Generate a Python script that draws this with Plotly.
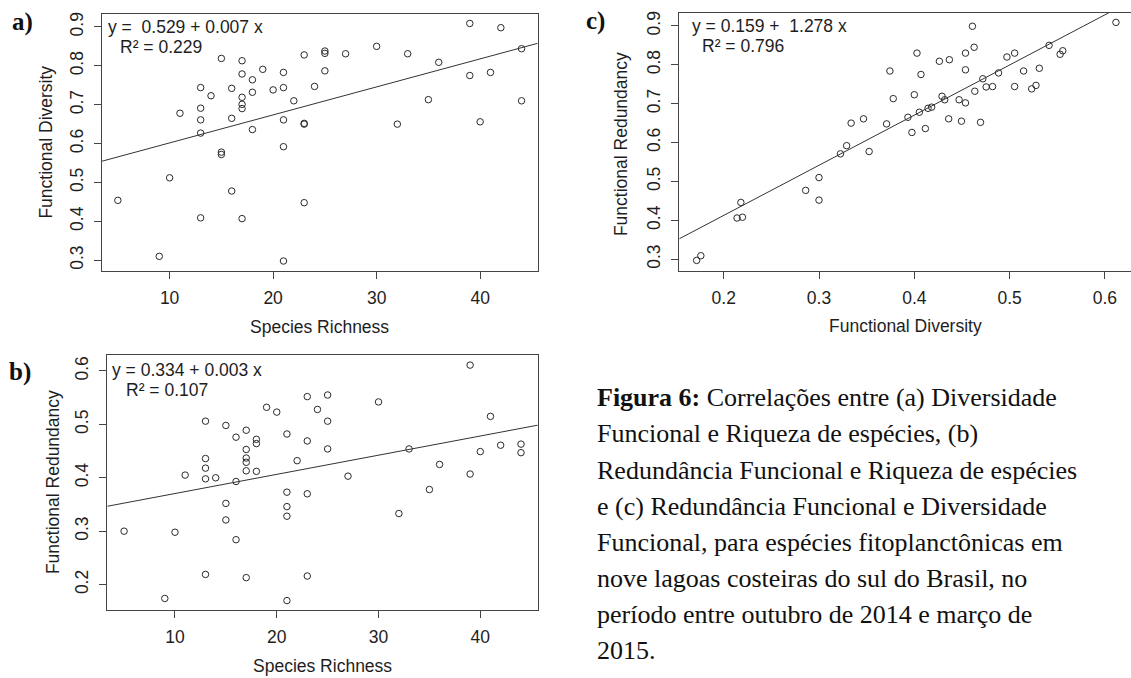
import numpy as np
import plotly.graph_objects as go

W, H = 1131, 678

# ---------------- data ----------------
species_richness = [5, 9, 10, 11, 13, 13, 13, 13, 13, 14, 15, 15, 15, 16, 16, 16,
                    17, 17, 17, 17, 17, 17, 18, 18, 18, 19, 20, 21, 21, 21, 21, 21,
                    22, 23, 23, 23, 23, 24, 25, 25, 25, 27, 30, 32, 33, 35, 36,
                    39, 39, 40, 41, 42, 44, 44]

functional_diversity = [0.454, 0.310, 0.512, 0.678,
                        0.744, 0.691, 0.661, 0.627, 0.409,
                        0.723,
                        0.819, 0.578, 0.572,
                        0.742, 0.665, 0.478,
                        0.813, 0.779, 0.719, 0.701, 0.690, 0.407,
                        0.764, 0.732, 0.636,
                        0.791, 0.738,
                        0.783, 0.744, 0.661, 0.592, 0.298,
                        0.710,
                        0.828, 0.652, 0.650, 0.448,
                        0.747,
                        0.838, 0.832, 0.787,
                        0.831, 0.850, 0.650, 0.831, 0.713, 0.809,
                        0.909, 0.775, 0.656, 0.783, 0.898, 0.844, 0.710]

functional_redundancy = [0.300, 0.174, 0.298, 0.405,
                         0.506, 0.436, 0.418, 0.398, 0.219,
                         0.400,
                         0.498, 0.352, 0.321,
                         0.476, 0.393, 0.284,
                         0.489, 0.453, 0.437, 0.429, 0.413, 0.213,
                         0.472, 0.464, 0.412,
                         0.532, 0.523,
                         0.482, 0.373, 0.346, 0.328, 0.170,
                         0.432,
                         0.552, 0.469, 0.370, 0.216,
                         0.528,
                         0.555, 0.506, 0.454,
                         0.403, 0.542, 0.333, 0.454, 0.378, 0.425,
                         0.611, 0.407, 0.449, 0.515, 0.461, 0.463, 0.447]

# panel c as drawn (x labelled Functional Diversity, y labelled Functional Redundancy)
c_x = [0.1716, 0.176, 0.214, 0.2197, 0.218, 0.286, 0.300, 0.300, 0.3225, 0.329,
       0.3337, 0.3467, 0.3526, 0.3709, 0.3744, 0.3779, 0.3933, 0.3975, 0.400, 0.4028,
       0.4053, 0.407, 0.4116, 0.4144, 0.4182, 0.4263, 0.4291, 0.4319, 0.4361, 0.4368,
       0.447, 0.4495, 0.4537, 0.4537, 0.4537, 0.461, 0.4628, 0.4635, 0.4695, 0.4719,
       0.4754, 0.4821, 0.4884, 0.4972, 0.5053, 0.5053, 0.5147, 0.5232, 0.5277, 0.5312,
       0.5414, 0.553, 0.5558, 0.6116]
c_y = [0.297, 0.309, 0.406, 0.408, 0.446, 0.477, 0.510, 0.452, 0.571, 0.592,
       0.650, 0.661, 0.577, 0.648, 0.784, 0.713, 0.665, 0.626, 0.723, 0.830,
       0.678, 0.775, 0.636, 0.688, 0.691, 0.809, 0.719, 0.710, 0.661, 0.813,
       0.710, 0.655, 0.830, 0.787, 0.702, 0.899, 0.845, 0.732, 0.652, 0.764,
       0.743, 0.744, 0.779, 0.820, 0.830, 0.744, 0.784, 0.738, 0.747, 0.791,
       0.850, 0.827, 0.836, 0.909]

x_ticks_sr = [10, 20, 30, 40]
y_ticks_a = [0.3, 0.4, 0.5, 0.6, 0.7, 0.8, 0.9]
y_ticks_b = [0.2, 0.3, 0.4, 0.5, 0.6]
x_ticks_c = [0.2, 0.3, 0.4, 0.5, 0.6]
y_ticks_c = [0.3, 0.4, 0.5, 0.6, 0.7, 0.8, 0.9]

eq_a = ["y =\u00a0\u00a00.529 + 0.007 x", "R\u00b2 = 0.229"]
eq_b = ["y = 0.334 + 0.003 x", "R\u00b2 = 0.107"]
eq_c = ["y = 0.159 +\u00a0\u00a01.278 x", "R\u00b2 = 0.796"]

caption_lines = [
    "<b>Figura 6:</b> Correlações entre (a) Diversidade",
    "Funcional e Riqueza de espécies, (b)",
    "Redundância Funcional e Riqueza de espécies",
    "e (c) Redundância Funcional e Diversidade",
    "Funcional, para espécies fitoplanctônicas em",
    "nove lagoas costeiras do sul do Brasil, no",
    "período entre outubro de 2014 e março de",
    "2015.",
]

# ---------------- styling helpers ----------------
SANS = "Liberation Sans, Arial, sans-serif"
SERIF = "Liberation Serif, Times New Roman, serif"
INK = "#1e1e1e"
LINE = "#444444"
FS = 17.5


def px(x):
    return x / W


def py(y):
    return 1 - y / H


fig = go.Figure()

panels = [
    ("x", "y", species_richness, functional_diversity),
    ("x2", "y2", species_richness, functional_redundancy),
    ("x3", "y3", c_x, c_y),
]
ranges = {
    "x": [3.44, 45.56], "y": [0.2736, 0.9341],
    "x2": [3.35, 45.64], "y2": [0.152, 0.630],
    "x3": [0.1534, 0.6274], "y3": [0.271, 0.934],
}

for xa, ya, xs, ys in panels:
    fig.add_trace(go.Scatter(
        x=xs, y=ys, mode="markers", xaxis=xa, yaxis=ya,
        marker=dict(symbol="circle-open", size=6.5, color="#2a2a2a",
                    line=dict(width=1, color="#2a2a2a")),
        showlegend=False, hoverinfo="skip"))
    slope, intercept = np.polyfit(np.array(xs), np.array(ys), 1)
    xr = np.linspace(ranges[xa][0], ranges[xa][1], 50)
    fig.add_trace(go.Scatter(
        x=xr, y=intercept + slope * xr, mode="lines", xaxis=xa, yaxis=ya,
        line=dict(color="#333333", width=1), showlegend=False, hoverinfo="skip"))


def xaxis_cfg(domain, rng, ticks, mirror=True):
    return dict(domain=domain, range=rng, tickvals=ticks,
                ticktext=[("%g" % t) for t in ticks],
                ticks="outside", ticklen=7, tickwidth=1, tickcolor=LINE,
                showline=True, linecolor=LINE, linewidth=1, mirror=mirror,
                showgrid=False, zeroline=False,
                tickfont=dict(family=SANS, size=FS, color=INK),
                ticklabelstandoff=4)


def yaxis_cfg(domain, rng, ticks, mirror=True):
    d = xaxis_cfg(domain, rng, ticks, mirror)
    d["tickangle"] = -90
    d["ticklabelstandoff"] = 4
    return d


fig.update_layout(
    width=W, height=H, margin=dict(l=0, r=0, t=0, b=0),
    paper_bgcolor="white", plot_bgcolor="white",
    xaxis=dict(**xaxis_cfg([px(101.7), px(537.7)], ranges["x"], x_ticks_sr), anchor="y"),
    yaxis=dict(**yaxis_cfg([py(269.3), py(11.7)], ranges["y"], y_ticks_a), anchor="x"),
    xaxis2=dict(**xaxis_cfg([px(107.3), px(537.7)], ranges["x2"], x_ticks_sr), anchor="y2"),
    yaxis2=dict(**yaxis_cfg([py(610), py(354)], ranges["y2"], y_ticks_b), anchor="x2"),
    xaxis3=dict(**xaxis_cfg([px(679.3), 1.0], ranges["x3"], x_ticks_c), anchor="y3"),
    yaxis3=dict(**yaxis_cfg([py(269.3), py(10.7)], ranges["y3"], y_ticks_c, mirror=False),
                anchor="x3"),
)

ann = []


def text(x, y, s, size=FS, family=SANS, xanchor="left", yanchor="middle", angle=0, color=INK):
    ann.append(dict(x=px(x), y=py(y), xref="paper", yref="paper", text=s,
                    showarrow=False, xanchor=xanchor, yanchor=yanchor, textangle=angle,
                    font=dict(family=family, size=size, color=color)))


# equations
text(106, 25, eq_a[0]); text(118, 45.5, eq_a[1])
text(110, 369.5, eq_b[0]); text(124, 389.5, eq_b[1])
text(690, 24, eq_c[0]); text(700, 44.3, eq_c[1])

# axis titles
text(319.7, 326, "Species Richness", xanchor="center")
text(322.5, 666, "Species Richness", xanchor="center")
text(905, 325, "Functional Diversity", xanchor="center")
text(46.5, 140.5, "Functional Diversity", xanchor="center", angle=-90)
text(52.5, 482, "Functional Redundancy", xanchor="center", angle=-90)
text(621, 142.5, "Functional Redundancy", xanchor="center", angle=-90)

# panel letters
text(10, 20, "<b>a)</b>", size=25, family=SERIF, color="#111")
text(7, 371, "<b>b)</b>", size=25, family=SERIF, color="#111")
text(584, 19, "<b>c)</b>", size=25, family=SERIF, color="#111")

# caption
for i, line in enumerate(caption_lines):
    text(595, 397 + 36.2 * i, line, size=26, family=SERIF, color="#111")

fig.update_layout(annotations=ann)
fig.write_html("out.html")
